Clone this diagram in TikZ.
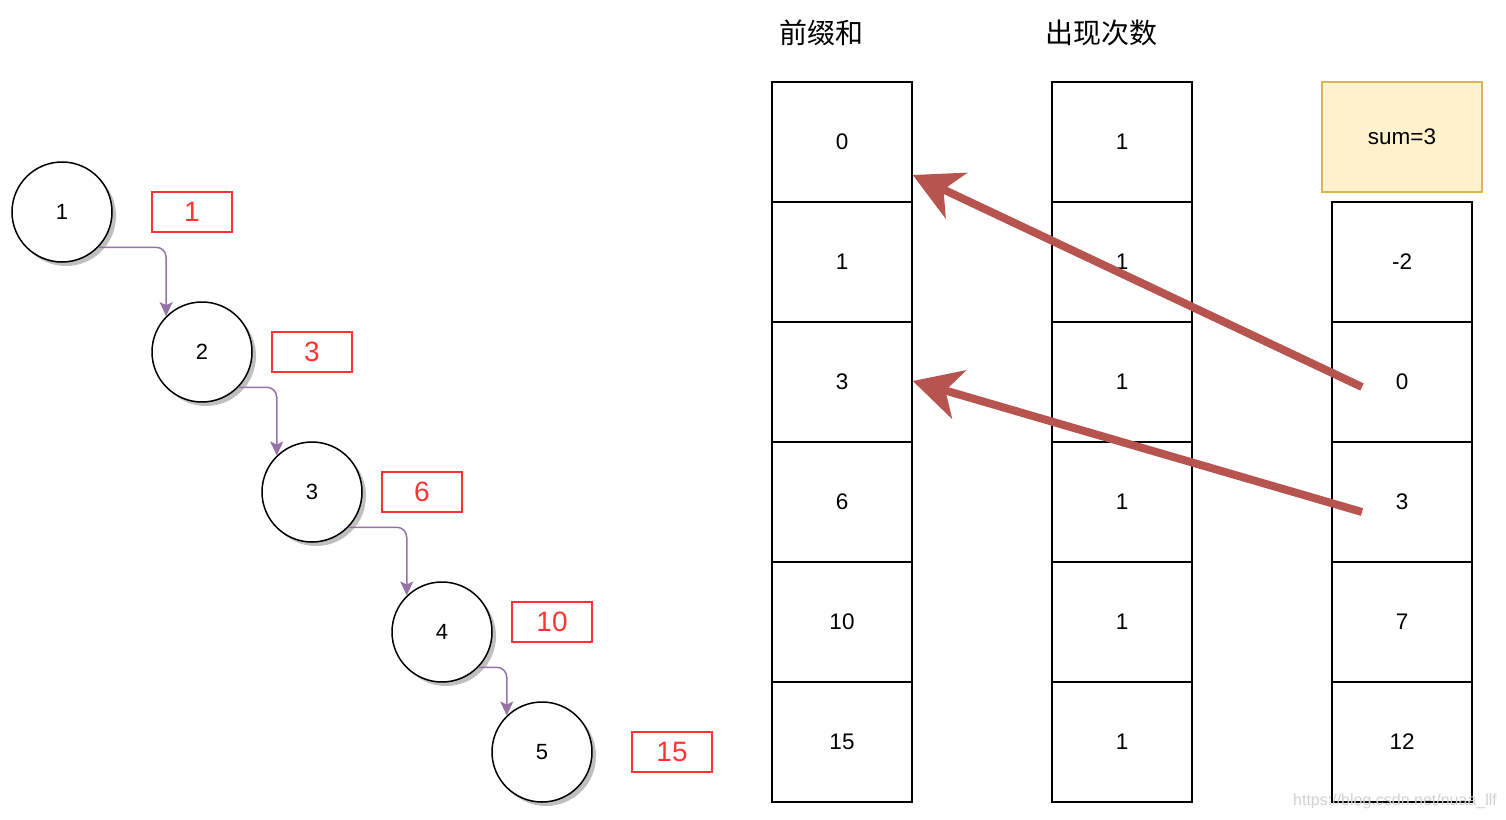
\documentclass[tikz,border=0pt]{standalone}
\usepackage{fontspec}
\setmainfont{Liberation Sans}
\newfontfamily\cjk{Noto Sans CJK SC}
\usetikzlibrary{arrows.meta}
\definecolor{boxred}{HTML}{FF3333}
\definecolor{linkpurple}{HTML}{9673A6}
\definecolor{bigred}{HTML}{B85450}
\definecolor{sumfill}{HTML}{FFF2CC}
\definecolor{sumdraw}{HTML}{D6B656}
\tikzset{
  treenode/.style={circle, draw=black, line width=1.5pt, fill=white, minimum size=100pt, inner sep=0pt, font=\fontsize{22}{26}\selectfont},
  sumlabel/.style={draw=boxred, line width=1.3pt, minimum width=80pt, minimum height=40pt, inner sep=0pt, text=boxred, font=\fontsize{28}{32}\selectfont},
  cell/.style={draw=black, line width=1.5pt, minimum width=140pt, minimum height=120pt, inner sep=0pt, font=\fontsize{22.5}{26}\selectfont},
  header/.style={font=\cjk\fontsize{28}{32}\selectfont, inner sep=0pt},
  link/.style={draw=linkpurple, line width=1.5pt, rounded corners=10pt, -{Stealth[length=14pt,width=13pt,inset=3pt]}},
  bigarrow/.style={draw=bigred, line width=8pt, -{Stealth[length=48pt,width=50pt,inset=14pt]}}
}
\begin{document}
\begin{tikzpicture}[x=1pt,y=-1pt]
\useasboundingbox (0,0) rectangle (1506,819);
% shadows
\foreach \x/\y in {62/212,202/352,312/492,442/632,542/752}
  \fill[black!25] (\x+4,\y+4) circle (50);
\node[treenode] (c1) at (62,212) {1};
\node[treenode] (c2) at (202,352) {2};
\node[treenode] (c3) at (312,492) {3};
\node[treenode] (c4) at (442,632) {4};
\node[treenode] (c5) at (542,752) {5};
\node[sumlabel] (s1) at (192,212) {1};
\node[sumlabel] (s2) at (312,352) {3};
\node[sumlabel] (s3) at (422,492) {6};
\node[sumlabel] (s4) at (552,622) {10};
\node[sumlabel] (s5) at (672,752) {15};
\draw[link] (c1.-44.4) -| (c2.135.6);
\draw[link] (c2.-44.4) -| (c3.134);
\draw[link] (c3.-44.4) -| (c4.134);
\draw[link] (c4.-44.4) -| (c5.134);
% headers
\node[header] (h1) at (821,33) {前缀和};
\node[header] (h2) at (1101,33) {出现次数};
% column 1
\node[cell] (p0) at (842,142) {0};
\node[cell] (p1) at (842,262) {1};
\node[cell] (p2) at (842,382) {3};
\node[cell] (p3) at (842,502) {6};
\node[cell] (p4) at (842,622) {10};
\node[cell] (p5) at (842,742) {15};
% column 2
\node[cell] (n0) at (1122,142) {1};
\node[cell] (n1) at (1122,262) {1};
\node[cell] (n2) at (1122,382) {1};
\node[cell] (n3) at (1122,502) {1};
\node[cell] (n4) at (1122,622) {1};
\node[cell] (n5) at (1122,742) {1};
% sum box
\node[draw=sumdraw, fill=sumfill, line width=1.3pt, minimum width=160pt, minimum height=110pt, inner sep=0pt, font=\fontsize{22.5}{26}\selectfont] (sum) at (1402,137) {sum=3};
% column 3
\node[cell] (v1) at (1402,262) {-2};
\node[cell] (v2) at (1402,382) {0};
\node[cell] (v3) at (1402,502) {3};
\node[cell] (v4) at (1402,622) {7};
\node[cell] (v5) at (1402,742) {12};
% arrows
\coordinate (a1s) at ([shift={(-40,5)}]v2.center);
\coordinate (a1e) at ([shift={(0,33)}]p0.east);
\coordinate (a2s) at ([shift={(-40,10)}]v3.center);
\coordinate (a2e) at ([shift={(0,-1)}]p2.east);
\draw[bigarrow] (a1s) -- (a1e);
\draw[bigarrow] (a2s) -- (a2e);
% watermark
\node[text=black!18, font=\fontsize{16}{18}\selectfont, inner sep=0pt] (wm) at (1395,801) {https://blog.csdn.net/nuaa\_llf};
\end{tikzpicture}
\end{document}
